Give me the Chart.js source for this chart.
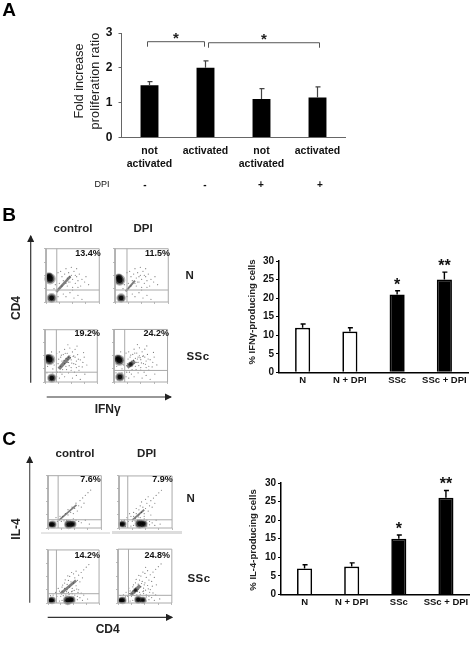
<!DOCTYPE html>
<html lang="en">
  <head>
    <meta charset="UTF-8" />
    <title>DPI proliferation and cytokine figure</title>
    <script src="https://cdn.jsdelivr.net/npm/chart.js"></script>
    <style>
      body {
        margin: 0;
        background: #fff;
        font-family: "Liberation Sans", Arial, sans-serif;
        color: #111;
      }
      #page {
        position: relative;
        width: 472px;
        height: 658px;
        overflow: hidden;
        filter: blur(0.3px);
      }
      canvas {
        position: absolute;
      }
      canvas.flow {
        filter: blur(0.4px);
      }
      .txt {
        position: absolute;
        white-space: nowrap;
      }
      svg {
        position: absolute;
        left: 0;
        top: 0;
      }
    </style>
  </head>
  <body>
    <div id="page">
      <svg width="472" height="658">
        <defs>
          <marker id="head" markerWidth="6" markerHeight="6" refX="5" refY="3" orient="auto">
            <path d="M0,0 L6,3 L0,6 Z" fill="#222" />
          </marker>
        </defs>
        <g stroke="#333" stroke-width="1.2">
          <line x1="30.7" y1="382.7" x2="30.7" y2="236" marker-end="url(#head)" />
          <line x1="46.7" y1="397" x2="171" y2="397" marker-end="url(#head)" />
          <line x1="29.7" y1="602.7" x2="29.7" y2="457" stroke="#555" marker-end="url(#head)" />
          <line x1="47.7" y1="617.3" x2="172" y2="617.3" marker-end="url(#head)" />
        </g>
        <line x1="41" y1="533" x2="110" y2="533" stroke="#ccc" stroke-width="1" />
        <line x1="112" y1="532.5" x2="182" y2="532.5" stroke="#ddd" stroke-width="3" />
      </svg>
    </div>
    <script>
      // Panel A values
      const aLabels = [["not", "activated"], "activated", ["not", "activated"], "activated"];
      const aValues = [1.5, 2.0, 1.1, 1.15];
      const aErrors = [0.1, 0.2, 0.3, 0.3];
      const aDpi = ["-", "-", "+", "+"];
      const aTicks = [0, 1, 2, 3];

      // Panel B and C bar values
      const groupLabels = ["N", "N + DPI", "SSc", "SSc + DPI"];
      const groupColors = ["#fff", "#fff", "#000", "#000"];
      const groupStars = ["", "", "*", "**"];
      const pctTicks = [0, 5, 10, 15, 20, 25, 30];
      const ifnValues = [12, 11, 21, 25];
      const ifnErrors = [1, 1, 1, 2];
      const il4Values = [7, 7.5, 15, 26];
      const il4Errors = [1, 1, 1, 2];

      // Flow plots, in log decades 0-4: gate x, gate y
      const bGates = [[0.81, 0.9], [0.9, 0.9], [0.87, 0.75], [0.8, 0.88]];
      const cGates = [[0.76, 0.63], [0.66, 0.63], [0.66, 0.7], [0.78, 0.57]];
      const bPercents = ["13.4%", "11.5%", "19.2%", "24.2%"];
      const cPercents = ["7.6%", "7.9%", "14.2%", "24.8%"];

      // Dense populations [x, y, radius]
      const bDense = [
        [[0.3, 1.75, 4.4], [0.22, 1.95, 3.0], [0.42, 0.3, 3.8]],
        [[0.35, 1.65, 4.4], [0.28, 1.85, 3.0], [0.46, 0.3, 3.6]],
        [[0.35, 1.72, 4.4], [0.22, 1.85, 3.0], [0.52, 0.3, 3.6]],
        [[0.4, 1.65, 4.2], [0.28, 1.8, 3.0], [0.44, 0.38, 3.6], [1.25, 1.35, 2.2]]
      ];
      const cDense = [
        [[0.36, 0.27, 3.0], [0.2, 0.27, 2.4], [1.55, 0.27, 3.6], [1.85, 0.3, 3.0]],
        [[0.3, 0.3, 2.8], [0.15, 0.3, 2.2], [1.55, 0.32, 3.8], [1.85, 0.32, 3.2]],
        [[0.32, 0.2, 3.0], [0.18, 0.2, 2.4], [1.55, 0.2, 3.8], [1.85, 0.25, 3.0]],
        [[0.35, 0.2, 3.0], [0.18, 0.2, 2.4], [1.5, 0.25, 3.2], [1.85, 0.22, 2.8], [1.3, 0.95, 1.8]]
      ];

      // Diagonal activated-cell streaks [x, y] end to end, and their widths
      const bStreaks = [
        [[0.77, 0.76], [1.83, 1.92]],
        [[0.8, 0.8], [1.5, 1.6]],
        [[1.06, 1.0], [1.9, 1.95]],
        [[0.98, 1.13], [1.56, 1.6]]
      ];
      const bStreakWidths = [2.5, 2, 3.5, 4];
      const cStreaks = [
        [[0.83, 0.6], [2.14, 1.77]],
        [[1.0, 0.6], [1.9, 1.4]],
        [[0.98, 0.7], [2.2, 1.7]],
        [[0.94, 0.6], [1.65, 1.3]]
      ];
      const cStreakWidths = [1.8, 1.8, 2.8, 3.5];

      // Scattered events, shared between plots of a panel
      const bCloud = [[1.2,1.9],[1.4,2.1],[1.6,1.8],[1.7,2.2],[1.8,1.5],[1.9,2.0],[2.0,1.7],[2.1,2.3],[2.2,1.4],[2.3,1.9],[2.4,1.6],[2.5,2.1],[2.6,1.2],[2.7,1.7],[2.9,1.5],[1.3,0.6],[1.5,0.4],[1.8,0.7],[2.1,0.3],[2.4,0.5],[2.7,0.2],[1.0,1.4],[1.1,2.3],[1.5,2.5],[1.9,2.6],[2.3,2.5],[0.9,2.2],[0.7,1.3],[0.6,1.0],[0.9,0.4],[1.2,1.2],[1.6,1.2],[2.0,1.1],[2.4,1.1],[3.0,1.9],[3.2,1.3],[1.7,1.5],[1.3,1.6],[2.2,2.0],[1.8,1.9],[1.5,1.4],[2.0,0.9],[2.6,0.9],[0.5,2.3],[0.2,1.2],[0.6,0.7],[0.15,0.7],[1.1,0.3],[1.05,1.75],[1.25,2.05],[1.45,1.65],[1.55,2.2],[1.75,1.75],[1.95,1.85],[2.05,1.45],[2.15,1.95],[2.35,1.35],[2.55,1.75],[1.35,0.95],[1.65,0.95],[1.85,1.25],[2.25,0.75],[2.85,1.15],[3.05,0.6],[2.95,2.25],[2.45,2.75],[1.75,2.85],[0.75,0.3],[0.95,0.75],[1.15,0.75]];
      const cCloud = [[0.9,0.9],[1.1,0.9],[1.3,1.1],[1.5,1.0],[1.5,1.4],[1.7,1.2],[1.8,1.6],[1.9,1.1],[2.0,1.5],[2.1,1.9],[2.2,1.3],[2.3,1.7],[2.4,2.1],[2.5,1.6],[2.6,2.3],[2.8,2.5],[3.0,2.7],[3.2,2.9],[2.7,1.9],[1.0,0.5],[1.2,0.55],[1.4,0.6],[1.9,0.7],[2.1,0.6],[2.3,0.5],[2.5,0.4],[2.8,0.6],[3.1,0.3],[0.7,0.5],[0.6,0.8],[0.4,0.6],[0.2,0.55],[0.5,0.1],[0.9,0.15],[1.1,0.2],[2.1,0.15],[2.3,0.25],[2.7,0.2],[1.6,1.7],[1.3,1.5],[2.0,2.2],[1.7,2.0],[2.2,2.4],[1.1,1.2],[0.8,1.1],[1.9,0.9],[2.4,1.0],[1.6,0.8],[1.25,0.75],[1.45,0.85],[1.65,0.65],[1.85,0.85],[2.05,0.95],[1.15,1.35],[1.35,1.75],[1.55,2.05],[1.85,2.3],[2.25,1.05],[2.6,0.75],[2.35,0.8],[2.1,0.45],[1.95,1.35],[1.75,1.45],[1.25,1.0],[1.05,0.7],[0.85,0.7],[0.55,0.45],[2.55,1.25],[2.85,1.35],[2.05,2.65]];
      const bCloudCounts = [42, 42, 70, 70];
      const cCloudCounts = [30, 50, 60, 70];

      const page = document.getElementById("page");
      const FONT = '"Liberation Sans", Arial, sans-serif';
      // room above the plot for the top tick label (label half height + tick padding)
      const TOP_ROOM = 14;

      // Put a line of text centred (or right aligned) on a point
      function put(text, x, y, css, rotate) {
        const el = document.createElement("div");
        el.className = "txt";
        el.textContent = text;
        el.style.cssText = "left:" + x + "px;top:" + y + "px;" + (css || "");
        const shiftX = css && css.includes("right-anchor") ? "-100%" : "-50%";
        el.style.transform =
          "translate(" + shiftX + ",-50%)" + (rotate ? " rotate(-90deg)" : "");
        page.appendChild(el);
      }

      function addCanvas(left, top, width, height) {
        const c = document.createElement("canvas");
        c.width = width;
        c.height = height;
        c.style.left = left + "px";
        c.style.top = top + "px";
        page.appendChild(c);
        return c;
      }

      // Error bars, significance stars and brackets for the bar charts
      const barExtras = {
        id: "barExtras",
        afterDatasetsDraw(chart, args, opts) {
          const { ctx, scales } = chart;
          ctx.save();
          ctx.strokeStyle = opts.errorColor;
          ctx.lineWidth = opts.errorWidth;
          opts.errors.forEach((err, i) => {
            const x = scales.x.getPixelForValue(i);
            const y0 = scales.y.getPixelForValue(chart.data.datasets[0].data[i]);
            const y1 = scales.y.getPixelForValue(chart.data.datasets[0].data[i] + err);
            ctx.beginPath();
            ctx.moveTo(x, y0);
            ctx.lineTo(x, y1);
            ctx.moveTo(x - 2, y1);
            ctx.lineTo(x + 3, y1);
            ctx.stroke();
            if (opts.stars && opts.stars[i]) {
              ctx.fillStyle = "#111";
              ctx.font = "bold 16px " + FONT;
              ctx.textAlign = "center";
              ctx.fillText(opts.stars[i], x, y1 - 1);
            }
          });
          (opts.brackets || []).forEach((b) => {
            const x0 = scales.x.getPixelForValue(b.from) + b.dx0;
            const x1 = scales.x.getPixelForValue(b.to) + b.dx1;
            const y = scales.y.getPixelForValue(b.level);
            ctx.strokeStyle = "#555";
            ctx.lineWidth = 1;
            ctx.beginPath();
            ctx.moveTo(x0, y + 5);
            ctx.lineTo(x0, y);
            ctx.lineTo(x1, y);
            ctx.lineTo(x1, y + 5);
            ctx.stroke();
            ctx.fillStyle = "#222";
            ctx.font = "bold 15px " + FONT;
            ctx.textAlign = "center";
            ctx.fillText("*", (x0 + x1) / 2, y + 1);
          });
          ctx.restore();
        },
      };

      function makeBars(cfg) {
        const plotW = cfg.right - cfg.left;
        const plotH = cfg.bottom - cfg.top;
        const canvasLeft = cfg.left - cfg.yWidth;
        const canvasTop = cfg.top - TOP_ROOM;
        const canvas = addCanvas(canvasLeft, canvasTop, Math.ceil(cfg.yWidth + plotW + 4), Math.ceil(TOP_ROOM + plotH + cfg.xHeight));
        const ctx = canvas.getContext("2d");
        ctx.letterSpacing = cfg.letterSpacing;
        return new Chart(ctx, {
          type: "bar",
          data: {
            labels: cfg.labels,
            datasets: [
              {
                data: cfg.values,
                backgroundColor: cfg.colors,
                borderColor: "#000",
                borderWidth: cfg.barBorder,
                barPercentage: cfg.barShare,
                categoryPercentage: 1,
              },
            ],
          },
          plugins: [barExtras],
          options: {
            responsive: false,
            animation: false,
            devicePixelRatio: 1,
            layout: { padding: { top: TOP_ROOM, right: canvas.width - cfg.yWidth - plotW, bottom: canvas.height - TOP_ROOM - plotH - cfg.xHeight } },
            plugins: {
              legend: { display: false },
              tooltip: { enabled: false },
              barExtras: { errors: cfg.errors, stars: cfg.stars, brackets: cfg.brackets, errorColor: cfg.errorColor, errorWidth: cfg.errorWidth },
            },
            scales: {
              x: {
                grid: { display: false, drawTicks: false },
                border: { color: cfg.axisColor, width: cfg.axisWidth },
                ticks: { color: "#111", font: { family: FONT, size: cfg.xFont, weight: "bold", lineHeight: cfg.xLine }, padding: cfg.xPad, maxRotation: 0, autoSkip: false },
                afterFit: (s) => { s.height = cfg.xHeight; },
              },
              y: {
                min: cfg.ticks[0],
                max: cfg.ticks[cfg.ticks.length - 1],
                afterBuildTicks: (s) => { s.ticks = cfg.ticks.map((v) => ({ value: v })); },
                grid: { drawOnChartArea: false, color: cfg.axisColor, tickLength: 3, tickWidth: 1 },
                border: { color: cfg.axisColor, width: cfg.axisWidth },
                ticks: { color: "#111", font: { family: FONT, size: cfg.yFont, weight: "bold" }, padding: cfg.yPad },
                afterFit: (s) => { s.width = cfg.yWidth; },
              },
            },
          },
        });
      }

      // One flow cytometry dot plot
      function makeFlow(box, gate, dense, streak, streakWidth, cloud) {
        const canvas = addCanvas(box.left - 6, box.top - 2, box.right - box.left + 8, box.bottom - box.top + 8);
        canvas.className = "flow";
        const frameColor = "#aaa";
        const lineSet = (pts, color, width) => ({
          type: "scatter",
          data: pts.map((p) => ({ x: p[0], y: p[1] })),
          showLine: true,
          borderColor: color,
          borderWidth: width,
          pointRadius: 0,
          clip: false,
        });
        const blob = (scale, alpha) => ({
          type: "bubble",
          data: dense.map((p) => ({ x: p[0], y: p[1], r: p[2] * scale })),
          backgroundColor: "rgba(0,0,0," + alpha + ")",
          borderWidth: 0,
          clip: false,
        });
        return new Chart(canvas.getContext("2d"), {
          type: "bubble",
          data: {
            datasets: [
              lineSet([[0, 0], [4, 0], [4, 4], [0, 4], [0, 0]], frameColor, 1),
              lineSet([[gate[0], 0], [gate[0], 4]], frameColor, 1),
              lineSet([[0, gate[1]], [4, gate[1]]], frameColor, 1),
              lineSet(streak, "rgba(40,40,40,0.6)", streakWidth),
              {
                type: "scatter",
                data: cloud.map((p) => ({ x: p[0], y: p[1] })),
                backgroundColor: "rgba(70,70,70,0.7)",
                pointRadius: 0.6,
                borderWidth: 0,
              },
              blob(1.3, 0.3),
              blob(1.0, 0.5),
              blob(0.65, 0.85),
            ],
          },
          options: {
            responsive: false,
            animation: false,
            devicePixelRatio: 1,
            layout: { padding: { top: 2, right: 2 } },
            plugins: { legend: { display: false }, tooltip: { enabled: false } },
            scales: {
              x: {
                type: "linear", min: 0, max: 4,
                grid: { drawOnChartArea: false, color: "#bbb", tickLength: 2 },
                border: { display: false },
                ticks: { stepSize: 1, display: false },
                afterFit: (s) => { s.height = 6; },
              },
              y: {
                type: "linear", min: 0, max: 4,
                grid: { drawOnChartArea: false, color: "#bbb", tickLength: 2 },
                border: { display: false },
                ticks: { stepSize: 1, display: false },
                afterFit: (s) => { s.width = 6; },
              },
            },
          },
        });
      }

      // Panel A
      makeBars({
        left: 121.5, right: 345.5, top: 33.3, bottom: 137.7,
        yWidth: 31.5, xHeight: 44,
        labels: aLabels, values: aValues, errors: aErrors, ticks: aTicks,
        colors: "#000", barBorder: 0, barShare: 0.32,
        axisColor: "#666", axisWidth: 1, errorColor: "#444", errorWidth: 1.2,
        xFont: 10.5, xLine: 1.25, xPad: 7, yFont: 12, yPad: 6, letterSpacing: "0.6px",
        brackets: [
          { from: 0, to: 1, dx0: -2, dx1: -1, level: 2.75 },
          { from: 1, to: 3, dx0: 3, dx1: 2, level: 2.72 },
        ],
      });

      // Panel B and C bars
      makeBars({
        left: 278.5, right: 467.5, top: 260.7, bottom: 372,
        yWidth: 22, xHeight: 20,
        labels: groupLabels, values: ifnValues, errors: ifnErrors, ticks: pctTicks,
        colors: groupColors, stars: groupStars, barBorder: 1.7, barShare: 0.32,
        axisColor: "#000", axisWidth: 1.5, errorColor: "#000", errorWidth: 1.4,
        xFont: 9.5, xLine: 1.2, xPad: 2, yFont: 10, yPad: 2, letterSpacing: "0.5px",
      });
      makeBars({
        left: 280.5, right: 469, top: 483.3, bottom: 594.7,
        yWidth: 22, xHeight: 20,
        labels: groupLabels, values: il4Values, errors: il4Errors, ticks: pctTicks,
        colors: groupColors, stars: groupStars, barBorder: 1.7, barShare: 0.32,
        axisColor: "#000", axisWidth: 1.5, errorColor: "#000", errorWidth: 1.4,
        xFont: 9.5, xLine: 1.2, xPad: 2, yFont: 10, yPad: 2, letterSpacing: "0.5px",
      });

      // Flow plots
      const bBoxes = [
        { left: 45.7, right: 102.7, top: 245, bottom: 302.7 },
        { left: 115, right: 172.3, top: 245, bottom: 302.7 },
        { left: 45, right: 101.7, top: 326, bottom: 382.7 },
        { left: 114.3, right: 171.7, top: 326, bottom: 382.7 },
      ];
      const cBoxes = [
        { left: 48.3, right: 104.3, top: 472.7, bottom: 527.7 },
        { left: 119, right: 175.7, top: 472.7, bottom: 527.7 },
        { left: 48.3, right: 102.7, top: 547, bottom: 603.3 },
        { left: 118.3, right: 175, top: 547, bottom: 603.3 },
      ];
      bBoxes.forEach((box, i) => makeFlow(box, bGates[i], bDense[i], bStreaks[i], bStreakWidths[i], bCloud.slice(0, bCloudCounts[i])));
      cBoxes.forEach((box, i) => makeFlow(box, cGates[i], cDense[i], cStreaks[i], cStreakWidths[i], cCloud.slice(0, cCloudCounts[i])));

      // Text around the charts
      const letter = "font-size:19px;font-weight:bold;color:#000;";
      put("A", 9, 10, letter);
      put("B", 9, 215, letter);
      put("C", 9, 439, letter);

      const yTitle = "font-size:12.5px;color:#222;font-weight:normal;";
      put("Fold increase", 79, 81, yTitle, true);
      put("proliferation ratio", 95, 81, yTitle + "letter-spacing:.2px;", true);
      put("DPI", 102, 184, "font-size:9px;");
      [145, 205, 261, 320].forEach((x, i) => put(aDpi[i], x, 184, "font-size:10px;font-weight:bold;"));

      const head = "font-size:11.5px;font-weight:bold;color:#222;";
      const pct = "font-size:9px;font-weight:bold;right-anchor:1;";
      const side = "font-size:11.5px;font-weight:bold;color:#222;letter-spacing:.5px;";
      const axisName = "font-size:12px;font-weight:bold;color:#222;";

      put("control", 73, 227.7, head);
      put("DPI", 143, 227.7, head);
      put("N", 190, 275, side);
      put("SSc", 198, 355.7, side);
      put("CD4", 15.7, 308, axisName, true);
      put("IFNγ", 107.7, 408.7, axisName);
      [[100.7, 253], [170, 253], [100, 333], [169, 333]].forEach((p, i) => put(bPercents[i], p[0], p[1], pct));

      put("control", 75, 453, head);
      put("DPI", 146.7, 453, head);
      put("N", 191, 498, side);
      put("SSc", 199, 577.7, side);
      put("IL-4", 15.7, 529, axisName, true);
      put("CD4", 107.7, 629, axisName);
      [[100.7, 479.3], [172.7, 479.3], [100, 554.7], [170, 554.7]].forEach((p, i) => put(cPercents[i], p[0], p[1], pct));

      const pctTitle = "font-size:9.5px;font-weight:bold;color:#222;";
      put("% IFNγ-producing cells", 251, 311.5, pctTitle, true);
      put("% IL-4-producing cells", 252, 539.5, pctTitle, true);
    </script>
  </body>
</html>
